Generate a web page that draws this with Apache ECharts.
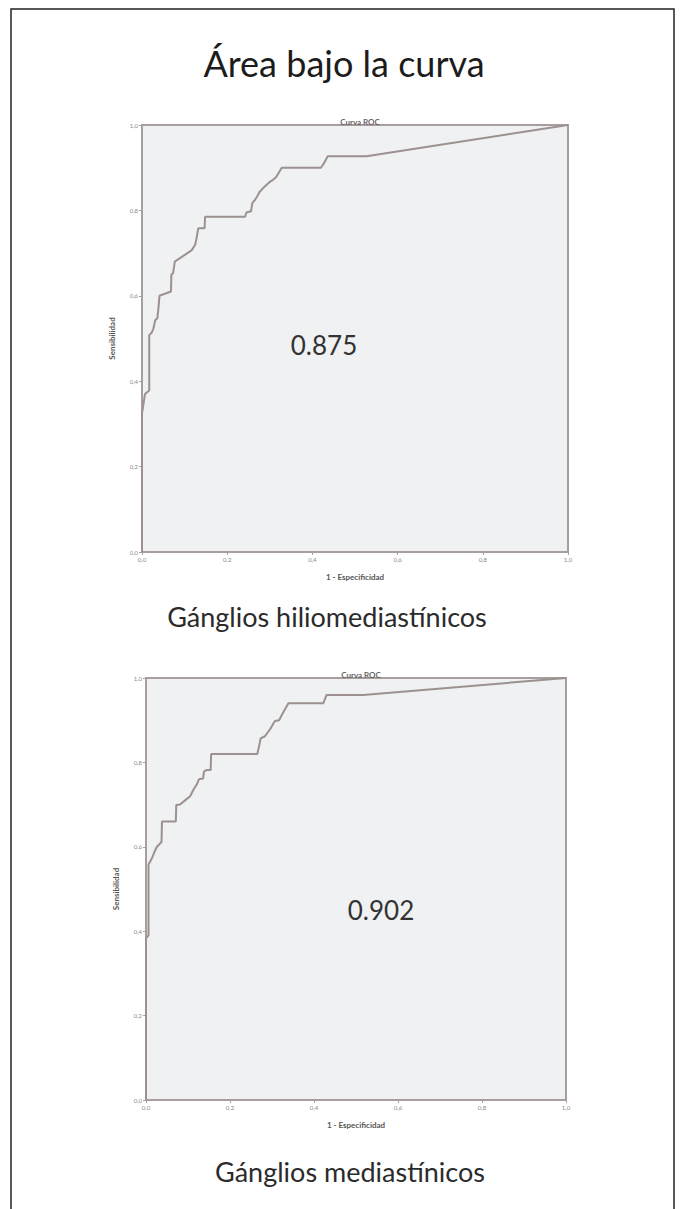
<!DOCTYPE html>
<html>
<head>
<meta charset="utf-8">
<script src="https://cdn.jsdelivr.net/npm/echarts@6/dist/echarts.min.js"></script>
<style>
html,body{margin:0;padding:0;background:#fff;}
#c{width:683px;height:1209px;}
</style>
</head>
<body>
<div id="c"></div>
<script>
// ---- data ----
const mainTitle = 'Área bajo la curva';
const panelTitle = 'Curva ROC';
const xAxisName = '1 - Especificidad';
const yAxisName = 'Sensibilidad';
const panelNames = ['Gánglios hiliomediastínicos', 'Gánglios mediastínicos'];
const aucValues = ['0.875', '0.902'];
const tickValues = [0, 0.2, 0.4, 0.6, 0.8, 1.0];

// Panel 1: Gánglios hiliomediastínicos (1 - especificidad, sensibilidad)
const hilioFpr = [0, 0, 0.007, 0.017, 0.017, 0.023, 0.027, 0.031, 0.036, 0.039, 0.041, 0.068, 0.069, 0.073, 0.077, 0.117, 0.125, 0.128, 0.132, 0.147, 0.148, 0.242, 0.245, 0.256, 0.259, 0.266, 0.270, 0.276, 0.287, 0.299, 0.307, 0.315, 0.328, 0.420, 0.428, 0.436, 0.527, 1.0];
const hilioTpr = [0, 0.325, 0.370, 0.378, 0.508, 0.514, 0.524, 0.543, 0.547, 0.575, 0.600, 0.610, 0.650, 0.653, 0.680, 0.707, 0.720, 0.735, 0.758, 0.758, 0.785, 0.785, 0.795, 0.798, 0.817, 0.826, 0.832, 0.843, 0.855, 0.866, 0.871, 0.878, 0.900, 0.900, 0.912, 0.927, 0.927, 1.0];

// Panel 2: Gánglios mediastínicos
const mediaFpr = [0, 0, 0.006, 0.006, 0.010, 0.015, 0.021, 0.026, 0.031, 0.037, 0.038, 0.071, 0.072, 0.081, 0.093, 0.105, 0.113, 0.121, 0.126, 0.136, 0.138, 0.144, 0.154, 0.155, 0.265, 0.270, 0.273, 0.283, 0.295, 0.307, 0.317, 0.323, 0.339, 0.422, 0.430, 0.517, 1.0];
const mediaTpr = [0, 0.383, 0.390, 0.558, 0.565, 0.575, 0.590, 0.600, 0.605, 0.612, 0.660, 0.660, 0.699, 0.700, 0.710, 0.720, 0.735, 0.748, 0.760, 0.762, 0.778, 0.782, 0.782, 0.820, 0.820, 0.842, 0.857, 0.862, 0.878, 0.898, 0.900, 0.912, 0.940, 0.940, 0.960, 0.960, 1.0];

// ---- chart ----
const frameColor = '#a89e9d';
const curveColor = '#9c9090';
const smallFont = 'Lato';

function pairs(xs, ys) { return xs.map((x, i) => [x, ys[i]]); }
const fmt = v => v.toFixed(1).replace('.', ',');

const grids = [
  { left: 142, top: 125, width: 426, height: 427 },
  { left: 146, top: 678, width: 420, height: 422 }
];

const chart = echarts.init(document.getElementById('c'), null, { renderer: 'svg' });

function xAxisCfg(i) {
  return {
    gridIndex: i, type: 'value', min: 0, max: 1, interval: 0.2,
    name: xAxisName, nameLocation: 'middle', nameGap: 21,
    nameTextStyle: { fontFamily: smallFont, fontSize: 8, fontWeight: 'bold', color: '#555' },
    axisLine: { show: true, onZero: false, lineStyle: { color: frameColor, width: 2 } },
    axisTick: { show: true, length: 3, lineStyle: { color: frameColor } },
    axisLabel: { fontFamily: smallFont, fontSize: 6, color: '#888', margin: 4, formatter: fmt },
    splitLine: { show: false }
  };
}
function yAxisCfg(i) {
  return {
    gridIndex: i, type: 'value', min: 0, max: 1, interval: 0.2,
    name: yAxisName, nameLocation: 'middle', nameGap: 26, nameRotate: 90,
    nameTextStyle: { fontFamily: smallFont, fontSize: 8, fontWeight: 'bold', color: '#555' },
    axisLine: { show: true, onZero: false, lineStyle: { color: frameColor, width: 2 } },
    axisTick: { show: true, length: 3, lineStyle: { color: frameColor } },
    axisLabel: { fontFamily: smallFont, fontSize: 6, color: '#888', margin: 4, formatter: fmt },
    splitLine: { show: false }
  };
}

const option = {
  backgroundColor: '#ffffff',
  animation: false,
  title: [
    { text: panelTitle, left: 355, top: 113, textAlign: 'center', textStyle: { fontFamily: smallFont, fontSize: 8, fontWeight: 'bold', color: '#666' } },
    { text: panelTitle, left: 356, top: 666, textAlign: 'center', textStyle: { fontFamily: smallFont, fontSize: 8, fontWeight: 'bold', color: '#666' } }
  ],
  grid: grids.map(g => Object.assign({ show: true, backgroundColor: '#eff1f2', borderColor: frameColor, borderWidth: 2, containLabel: false }, g)),
  xAxis: [xAxisCfg(0), xAxisCfg(1)],
  yAxis: [yAxisCfg(0), yAxisCfg(1)],
  series: [
    { type: 'line', xAxisIndex: 0, yAxisIndex: 0, data: pairs(hilioFpr, hilioTpr), showSymbol: false, lineStyle: { color: curveColor, width: 2 }, z: 5 },
    { type: 'line', xAxisIndex: 1, yAxisIndex: 1, data: pairs(mediaFpr, mediaTpr), showSymbol: false, lineStyle: { color: curveColor, width: 2 }, z: 5 }
  ],
  graphic: [
    { type: 'rect', shape: { x: 11, y: 9, width: 663, height: 1220 }, style: { fill: 'none', stroke: '#222', lineWidth: 1.5 }, z: 0, silent: true },
    { type: 'text', x: 344, y: 63, style: { text: mainTitle, font: '36px Lato', fill: '#1c1c1c', textAlign: 'center', textVerticalAlign: 'middle' }, z: 10 },
    { type: 'text', x: 324, y: 345, style: { text: aucValues[0], font: '26px Lato', fill: '#333', textAlign: 'center', textVerticalAlign: 'middle' }, z: 10 },
    { type: 'text', x: 381, y: 910, style: { text: aucValues[1], font: '26px Lato', fill: '#333', textAlign: 'center', textVerticalAlign: 'middle' }, z: 10 },
    { type: 'text', x: 327, y: 616, style: { text: panelNames[0], font: '27px Lato', fill: '#2b2b2b', textAlign: 'center', textVerticalAlign: 'middle' }, z: 10 },
    { type: 'text', x: 350, y: 1171, style: { text: panelNames[1], font: '27px Lato', fill: '#2b2b2b', textAlign: 'center', textVerticalAlign: 'middle' }, z: 10 }
  ]
};
chart.setOption(option);
</script>
</body>
</html>
